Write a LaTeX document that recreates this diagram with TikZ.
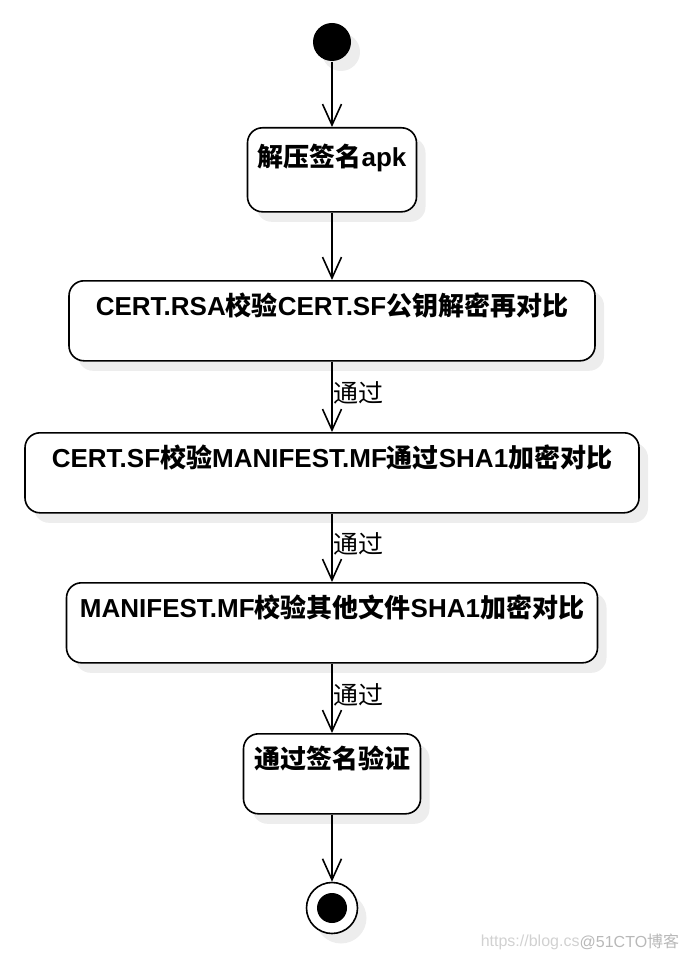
\documentclass[tikz,border=0pt]{standalone}
\usepackage{fontspec}
\setmainfont{Liberation Sans}
\newfontfamily\cjk{Noto Sans CJK SC}
\usetikzlibrary{arrows.meta,shadows}
\newcommand\zh[1]{{\cjk #1}}
\begin{document}
\begin{tikzpicture}[x=1pt,y=-1pt,
  line width=1.6pt,
  shad/.style={drop shadow={shadow xshift=9pt,shadow yshift=-10pt,fill=black!7,opacity=1}},
  act/.style={draw=black,fill=white,rounded corners=15pt,shad,anchor=north,
    inner xsep=0pt,inner ysep=0pt,text height=35pt,text depth=45pt,
    font=\fontsize{26}{30}\bfseries},
  flow/.style={-{Straight Barb[length=21pt,width=19pt,line width=1.6pt]}},
  lbl/.style={anchor=west,inner sep=1pt,font=\fontsize{25}{30}\selectfont}]
\useasboundingbox (0,0) rectangle (690,960);
\node[circle,fill=black,minimum size=38pt,inner sep=0pt,shad] (start) at (332,42) {};
\node[act,minimum width=169pt,text height=39pt] (b1) at (332,127) {\zh{解压签名}apk};
\node[act,minimum width=526pt] (b2) at (332,280) {CERT.RSA\zh{校验}CERT.SF\zh{公钥解密再对比}};
\node[act,minimum width=614pt] (b3) at (332,432) {CERT.SF\zh{校验}MANIFEST.MF\zh{通过}SHA1\zh{加密对比}};
\node[act,minimum width=531pt] (b4) at (332,582) {MANIFEST.MF\zh{校验其他文件}SHA1\zh{加密对比}};
\node[act,minimum width=177pt] (b5) at (332,733) {\zh{通过签名验证}};
\node[circle,draw=black,fill=white,minimum size=51pt,inner sep=0pt,shad] (end) at (332,908) {};
\node[circle,fill=black,minimum size=30pt,inner sep=0pt] (endin) at (end.center) {};
\draw[flow] (start) -- (b1);
\draw[flow] (b1) -- (b2);
\draw[flow] (b2) -- node[lbl,pos=0.45] {\zh{通过}} (b3);
\draw[flow] (b3) -- node[lbl,pos=0.45] {\zh{通过}} (b4);
\draw[flow] (b4) -- node[lbl,pos=0.45] {\zh{通过}} (b5);
\draw[flow] (b5) -- (end);
\node[anchor=west,inner sep=0pt,text=black!18,font=\fontsize{16}{20}\selectfont] (wm1) at (480,942) {https://blog.cs};
\node[anchor=east,inner sep=0pt,text=black!28,font=\fontsize{16}{20}\selectfont] (wm2) at (680,942) {@51CTO\zh{博客}};
\end{tikzpicture}
\end{document}
